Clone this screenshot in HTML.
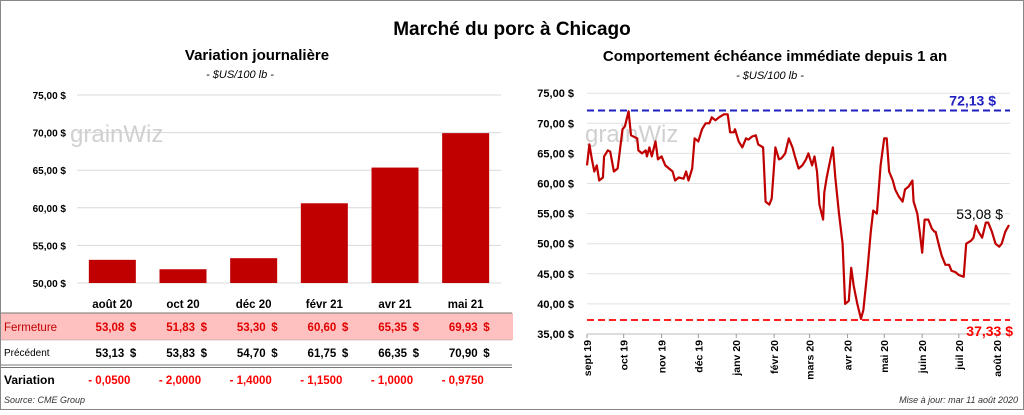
<!DOCTYPE html>
<html><head><meta charset="utf-8"><style>
body{margin:0;width:1024px;height:410px;background:#fff;font-family:"Liberation Sans",sans-serif;overflow:hidden}
svg text{font-family:"Liberation Sans",sans-serif}
</style></head><body>
<svg id="s" width="1024" height="410" xmlns="http://www.w3.org/2000/svg">
<rect x="0.5" y="0.5" width="1023" height="409" fill="#fff" stroke="#888"/>
<text x="512" y="35" text-anchor="middle" font-size="19" font-weight="bold">Marché du porc à Chicago</text>
<text x="257" y="60" text-anchor="middle" font-size="15" font-weight="bold">Variation  journalière</text>
<text x="240" y="78" text-anchor="middle" font-size="11" font-style="italic">- $US/100 lb -</text>
<text x="775" y="61" text-anchor="middle" font-size="15" font-weight="bold">Comportement  échéance immédiate depuis 1 an</text>
<text x="770" y="79" text-anchor="middle" font-size="11" font-style="italic">- $US/100 lb -</text>
<g id="left"></g>
<g id="tbl"></g>
<g id="right"></g>
<text x="4" y="403" font-size="9" font-style="italic" fill="#333">Source: CME Group</text>
<text x="1018" y="403" text-anchor="end" font-size="9" font-style="italic" fill="#333">Mise à jour: mar 11 août 2020</text>
</svg>
<script>
const NS="http://www.w3.org/2000/svg";
const barCats=["août 20","oct 20","déc 20","févr 21","avr 21","mai 21"];
const closeVals=[53.08,51.83,53.30,60.60,65.35,69.93];
const prevVals=[53.13,53.83,54.70,61.75,66.35,70.90];
const varLabels=["- 0,0500","- 2,0000","- 1,4000","- 1,1500","- 1,0000","- 0,9750"];
const leftTicks=[50,55,60,65,70,75];
const lineDays=[0,2,4,6,8,10,13,14,17,19,22,25,26,29,31,34,36,41,42,45,48,49,51,53,56,58,61,64,67,70,72,75,79,81,83,86,88,91,94,97,100,102,105,108,112,115,117,120,121,124,127,130,132,135,138,140,144,146,149,151,154,157,159,162,165,168,170,173,176,179,181,184,186,188,190,193,194,196,199,201,203,206,209,211,214,216,218,221,224,226,229,232,234,237,240,243,245,247,250,252,255,258,260,263,266,267,270,272,274,276,279,282,284,285,288,290,293,296,298,301,304,308,310,314,316,318,320,323,326,328,331,334,337,339,342,345];
const lineVals=[63,66.5,64,62,63,60.5,61,64.5,65.5,65.3,62,62.5,64,69,69.5,72,68,67.5,65.5,65,65.5,64.5,66,64.5,67,64,64.5,63,62.5,62,60.5,61,60.8,62,60.5,62.5,67.5,67,69,70,70,71,70.5,71,71.5,71.5,68.5,68.5,69,67,66,67.5,67.3,67.8,68,66.5,66,57,56.5,57.5,66,64,64.2,65,67.5,66,64.5,62.5,63,64,65,63,64.5,62,56.5,54,58.5,61,64,66,61,55,50,40,40.5,46,43,40,37.5,39,45,52,55.5,55,63,67.5,67.5,62,60.5,59,57.8,57,59,59.5,60.5,57,55,52,48.5,54,54,52.5,52,52,49.5,48,46.5,46.5,45.5,45.3,44.8,44.5,50,50.5,51,53,52,51,53.5,53.5,52,50,49.5,50,52,53.1];
const rightTicks=[35,40,45,50,55,60,65,70,75];
const monthLabels=["sept 19","oct 19","nov 19","déc 19","janv 20","févr 20","mars 20","avr 20","mai 20","juin 20","juil 20","août 20"];
const monthDays=[0,30,61,91,122,153,182,213,243,274,304,335];
const hiVal=72.13, loVal=37.33, lastVal=53.08;
const totalDays=345;

function mk(t,a,p,txt){const e=document.createElementNS(NS,t);for(const k in a)e.setAttribute(k,a[k]);if(txt!==undefined)e.textContent=txt;p.appendChild(e);return e;}
const fmt=v=>v.toFixed(2).replace('.',',');

// left bar chart
const L=document.getElementById('left');
const lx0=77,lx1=501,ly=v=>283-(v-50)*7.52;
const bw=(lx1-lx0)/barCats.length;
leftTicks.forEach(t=>{
  const g=mk('line',{x1:lx0,x2:lx1,y1:ly(t),y2:ly(t),stroke:'#d9d9d9'},L);
  
  
  const tx=mk('text',{x:66,y:ly(t)+4,'text-anchor':'end','font-size':'10','font-weight':'bold'},L,fmt(t)+" $");
  
  
});
mk('text',{x:70,y:142,'font-size':'24',fill:'#d0d0d0'},L,'grainWiz');
closeVals.forEach((v,i)=>{
  const cx=lx0+bw*(i+0.5);
  const r=mk('rect',{x:cx-23.5,y:ly(v),width:47,height:ly(50)-ly(v),fill:'#c00000'},L);
  
  
});
// table
const T=document.getElementById('tbl');
mk('rect',{x:1,y:313,width:512,height:27,fill:'#ffc0c0'},T);
mk('line',{x1:1,x2:512,y1:313,y2:313,stroke:'#777'},T);
mk('line',{x1:1,x2:512,y1:340,y2:340,stroke:'#999','stroke-width':0.6},T);
mk('line',{x1:1,x2:512,y1:365,y2:365,stroke:'#777'},T);
mk('line',{x1:1,x2:512,y1:367.5,y2:367.5,stroke:'#777'},T);
mk('text',{x:4,y:331,'font-size':'11.5',fill:'#c00000'},T,'Fermeture');
mk('text',{x:4,y:356,'font-size':'10'},T,'Précédent');
mk('text',{x:4,y:384,'font-size':'12','font-weight':'bold'},T,'Variation');
barCats.forEach((c,i)=>{
  const cx=lx0+bw*(i+0.5);
  const h=mk('text',{x:cx,y:308,'text-anchor':'middle','font-size':'11.5','font-weight':'bold'},T,c);
  
  
  const dx=cx+24;
  const a=mk('text',{x:dx-12,y:331,'text-anchor':'end','font-size':'11.5','font-weight':'bold',fill:'#e00000'},T,fmt(closeVals[i]));
  
  
  mk('text',{x:dx,y:331,'text-anchor':'end','font-size':'11.5','font-weight':'bold',fill:'#e00000'},T,'$');
  const b=mk('text',{x:dx-12,y:357,'text-anchor':'end','font-size':'11.5','font-weight':'bold'},T,fmt(prevVals[i]));
  
  
  mk('text',{x:dx,y:357,'text-anchor':'end','font-size':'11.5','font-weight':'bold'},T,'$');
  const d=mk('text',{x:cx-3,y:384,'text-anchor':'middle','font-size':'11.5','font-weight':'bold',fill:'#ff0000'},T,varLabels[i]);
  
  
});
// right line chart
const R=document.getElementById('right');
const rx0=587,rx1=1010,ry=v=>334-(v-35)*6.02,rx=d=>rx0+(d/totalDays)*(rx1-rx0-1);
rightTicks.forEach(t=>{
  const g=mk('line',{x1:rx0,x2:rx1,y1:ry(t),y2:ry(t),stroke:t==35?'#bbb':'#e0e0e0'},R);
  
  
  const tx=mk('text',{x:574,y:ry(t)+4,'text-anchor':'end','font-size':'11','font-weight':'bold'},R,fmt(t)+" $");
  
  
});
mk('text',{x:585,y:142,'font-size':'24',fill:'#d0d0d0'},R,'grainWiz');
monthLabels.forEach((m,i)=>{
  const x=rx(monthDays[i]);
  mk('line',{x1:x,x2:x,y1:334,y2:338,stroke:'#999'},R);
  const tx=mk('text',{x:0,y:0,'text-anchor':'end','font-size':'10.5','font-weight':'bold',transform:`translate(${x+4},340) rotate(-90)`},R,m);
  
  
});
let hl=mk('line',{x1:rx0,x2:rx1,y1:ry(hiVal),y2:ry(hiVal),stroke:'#2020c0','stroke-width':2,'stroke-dasharray':'7,4'},R);


let ll=mk('line',{x1:rx0,x2:rx1,y1:ry(loVal),y2:ry(loVal),stroke:'#ff2020','stroke-width':2,'stroke-dasharray':'7,4'},R);


const pts=lineVals.map((v,i)=>rx(lineDays[i]).toFixed(1)+','+ry(v).toFixed(1)).join(' ');
const pl=mk('polyline',{points:pts,fill:'none',stroke:'#c00000','stroke-width':2.2,'stroke-linejoin':'round'},R);


let a1=mk('text',{x:996,y:ry(hiVal)-5,'text-anchor':'end','font-size':'14','font-weight':'bold',fill:'#2020c0'},R,fmt(hiVal)+' $');


let a2=mk('text',{x:1013,y:ry(loVal)+16,'text-anchor':'end','font-size':'14','font-weight':'bold',fill:'#ff0000'},R,fmt(loVal)+' $');


let a3=mk('text',{x:1003,y:ry(lastVal)-6,'text-anchor':'end','font-size':'14',fill:'#000'},R,fmt(lastVal)+' $');


</script>
</body></html>
